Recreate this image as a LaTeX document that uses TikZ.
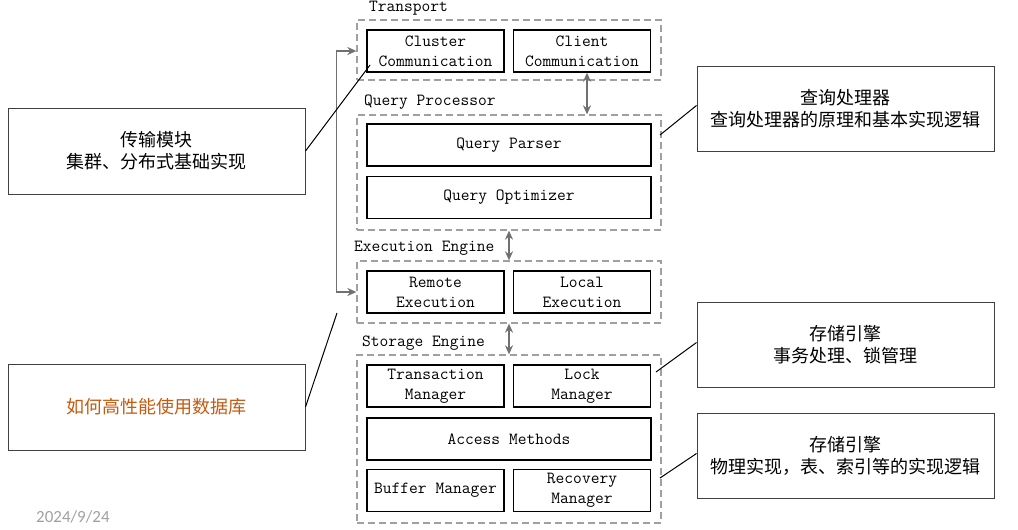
\documentclass[tikz,border=0pt]{standalone}
\usepackage{fontspec}
\newfontfamily\cjk{Noto Sans CJK SC}
\newfontfamily\datefont{Carlito}
\usetikzlibrary{arrows.meta}
\definecolor{orangetxt}{HTML}{C55A11}
\definecolor{grpgray}{HTML}{A0A0A0}
\definecolor{arrgray}{HTML}{707070}
\definecolor{anngray}{HTML}{404040}
\definecolor{dategray}{HTML}{A0A0A0}
\begin{document}
\begin{tikzpicture}[x=1pt,y=-1pt,
  comp/.style={draw=black,line width=1.4pt,minimum width=137pt,minimum height=42pt,inner sep=0pt,align=center,
    font=\fontsize{17}{20}\ttfamily},
  wide/.style={comp,minimum width=284pt},
  group/.style={draw=grpgray,line width=1.3pt,dash pattern=on 7pt off 4pt,minimum width=304pt,inner sep=0pt},
  glabel/.style={anchor=west,inner sep=0pt,font=\fontsize{17}{20}\ttfamily},
  biarrow/.style={arrgray,line width=1.6pt,{Stealth[length=9pt,width=8pt]}-{Stealth[length=9pt,width=8pt]}},
  ann/.style={draw=anngray,line width=1pt,minimum width=297pt,minimum height=86pt,align=center,
    font=\fontsize{18}{22}\cjk},
  annline/.style={black,line width=1pt}]
\useasboundingbox (0,0) rectangle (1018,530);

% groups
\node[group,minimum height=60pt] (transport) at (509,50) {};
\node[group,minimum height=115pt] (qp) at (509,172.5) {};
\node[group,minimum height=62pt] (exec) at (509,292) {};
\node[group,minimum height=168pt] (storage) at (509,439) {};

% group labels
\node[glabel] (tl) at (369,8) {Transport};
\node[glabel] (ql) at (364,102) {Query Processor};
\node[glabel] (el) at (354,248) {Execution Engine};
\node[glabel] (sl) at (362,343) {Storage Engine};

% components
\node[comp] (cc) at (435.5,51) {Cluster\\Communication};
\node[comp] (client) at (582,51) {Client\\Communication};
\node[wide] (parser) at (509,145) {Query Parser};
\node[wide] (opt) at (509,197.5) {Query Optimizer};
\node[comp] (remote) at (435.5,292) {Remote\\Execution};
\node[comp] (local) at (582,292) {Local\\Execution};
\node[comp] (txn) at (435.5,386) {Transaction\\Manager};
\node[comp] (lock) at (582,386) {Lock\\Manager};
\node[wide] (access) at (509,439) {Access Methods};
\node[comp] (buffer) at (435.5,490.5) {Buffer Manager};
\node[comp] (recovery) at (582,490.5) {Recovery\\Manager};

% arrows
\draw[biarrow] ([xshift=5pt]client.south) -- ([xshift=5pt]client.south |- qp.north);
\draw[biarrow] (qp.south) -- (exec.north);
\draw[biarrow] (exec.south) -- (storage.north);
\draw[biarrow] (transport.west |- cc.west) -- ++(-20,0) |- (exec.west |- remote.west);

% annotations
\node[ann] (a1) at (156.5,151) {传输模块\\集群、分布式基础实现};
\node[ann,text=orangetxt] (a2) at (156.5,407) {如何高性能使用数据库};
\node[ann,minimum height=85pt] (a3) at (845.5,108.5) {查询处理器\\查询处理器的原理和基本实现逻辑};
\node[ann,minimum height=85pt] (a4) at (845.5,344.5) {存储引擎\\事务处理、锁管理};
\node[ann,minimum height=85pt] (a5) at (845.5,455.5) {存储引擎\\物理实现，表、索引等的实现逻辑};

\coordinate (p1) at (370,65);
\coordinate (p2) at (337,313);
\coordinate (p3) at (660,135);
\coordinate (p4) at (656,372);
\coordinate (p5) at (660,478);
\draw[annline] (a1.east) -- (p1);
\draw[annline] (a2.east) -- (p2);
\draw[annline] ([yshift=3pt]a3.west) -- (p3);
\draw[annline] ([yshift=2pt]a4.west) -- (p4);
\draw[annline] ([yshift=2pt]a5.west) -- (p5);

\node[anchor=west,inner sep=0pt,text=dategray,font=\fontsize{17}{20}\datefont] (date) at (36,517) {2024/9/24};
\end{tikzpicture}
\end{document}
